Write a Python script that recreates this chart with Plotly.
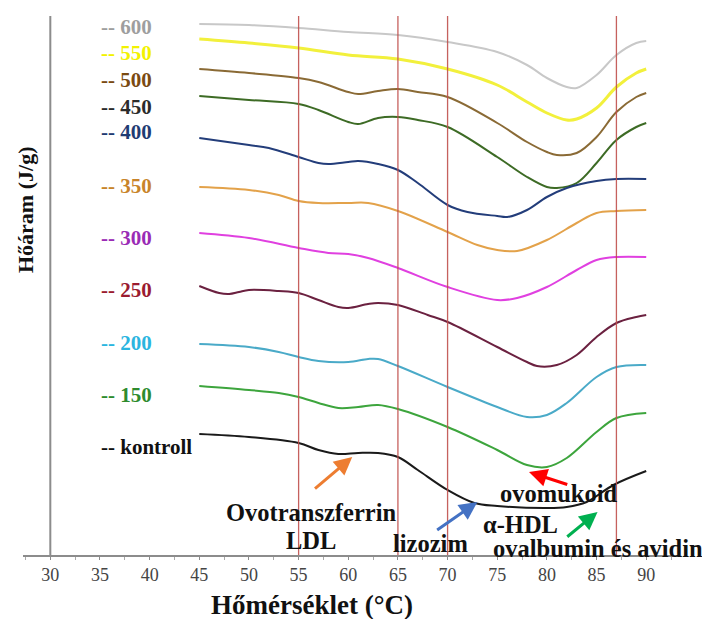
import plotly.graph_objects as go

# ---- data ----
t_600 = [45, 50, 55, 60, 65, 70, 75, 78, 80, 82, 83, 85, 87, 89, 90]
v_600 = [531, 530, 527, 523, 520, 513, 503, 490, 477, 468, 467, 480, 500, 512, 514]

t_550 = [45, 50, 55, 60, 65, 70, 75, 78, 80, 82, 83, 85, 87, 89, 90]
v_550 = [516, 512, 507, 500, 496, 486, 470, 453, 442, 435, 436, 447, 468, 482, 486]

t_500 = [45, 50, 55, 57, 60, 61, 63, 65, 67, 70, 75, 78, 80, 81, 83, 85, 87, 89, 90]
v_500 = [486, 482, 477, 473, 463, 461, 464, 466, 463, 458, 432, 413, 403, 400, 402, 418, 443, 458, 462]

t_450 = [45, 50, 55, 57, 60, 61, 63, 65, 67, 70, 75, 78, 80, 81, 83, 85, 87, 89, 90]
v_450 = [459, 455, 451, 445, 433, 431, 437, 438, 435, 428, 398, 378, 368, 367, 372, 392, 415, 428, 432]

t_400 = [45, 50, 52, 55, 57, 58, 60, 61, 63, 65, 67, 70, 72, 75, 76, 78, 80, 82, 85, 87, 90]
v_400 = [417, 410, 407, 398, 392, 391, 393, 394, 391, 385, 372, 350, 343, 339, 338, 345, 358, 367, 374, 376, 376]

t_350 = [45, 50, 53, 55, 57, 60, 62, 65, 70, 73, 75, 77, 80, 83, 85, 87, 90]
v_350 = [368, 365, 360, 354, 352, 352, 352, 344, 323, 310, 305, 304, 315, 332, 342, 344, 345]

t_300 = [45, 50, 55, 58, 60, 62, 65, 70, 75, 77, 80, 83, 85, 87, 90]
v_300 = [322, 317, 307, 302, 301, 297, 287, 268, 255, 257, 268, 285, 295, 298, 298]

t_250 = [45, 47, 48, 49, 50, 53, 55, 57, 59, 60, 62, 63, 65, 68, 70, 75, 78, 79, 81, 83, 85, 87, 89, 90]
v_250 = [269, 262, 261, 263, 265, 264, 262, 255, 248, 247, 251, 252, 250, 240, 233, 208, 193, 189, 190, 200, 218, 232, 238, 240]

t_200 = [45, 50, 53, 55, 57, 60, 62, 63, 65, 70, 75, 78, 80, 82, 85, 87, 90]
v_200 = [211, 208, 203, 198, 194, 193, 196, 196, 189, 168, 148, 138, 140, 152, 178, 188, 190]

t_150 = [45, 50, 53, 55, 57, 59, 61, 63, 65, 70, 75, 78, 80, 82, 85, 87, 90]
v_150 = [169, 165, 162, 158, 152, 147, 148, 150, 146, 128, 105, 90, 88, 97, 123, 137, 142]

t_kontroll = [45, 50, 55, 57, 59, 61, 63, 65, 67, 70, 72.7, 75, 80, 82, 84, 86.7, 90]
v_kontroll = [121, 118, 112, 105, 101, 102, 102, 98, 85, 65, 52, 49, 47, 48, 53, 70, 84]

series_names = ["600", "550", "500", "450", "400", "350", "300", "250", "200", "150", "kontroll"]
series_t = [t_600, t_550, t_500, t_450, t_400, t_350, t_300, t_250, t_200, t_150, t_kontroll]
series_v = [v_600, v_550, v_500, v_450, v_400, v_350, v_300, v_250, v_200, v_150, v_kontroll]
line_colors = ["#C8C8C8", "#F2F03C", "#8A6A35", "#3D6B25", "#233D7A", "#E3A24A",
               "#E040E0", "#6B2140", "#4AAAC8", "#3DA53D", "#1A1A1A"]
label_colors = ["#9E9E9E", "#F2F200", "#7A4A12", "#2B2B2B", "#1F3C73", "#C8842A",
                "#9A2BB5", "#9B1B30", "#2BB5E0", "#2E8B2E", "#111111"]
line_widths = [2, 3, 2, 2, 2, 2, 2, 2, 2, 2, 2]
label_y = [528, 502, 475, 448, 423, 369, 317, 265, 212, 160, 108]
label_x = 34.9

box_edges = [(55, 65), (70, 87)]
x_ticks = [30, 35, 40, 45, 50, 55, 60, 65, 70, 75, 80, 85, 90]

# protein annotations: text, x, y
protein_labels = [
    ("Ovotranszferrin", 56.2, 43),
    ("LDL", 56.2, 15),
    ("lizozim", 68.3, 12),
    ("ovomukoid", 81.2, 62),
    ("α-HDL", 77.3, 31),
    ("ovalbumin és avidin", 85.1, 7),
]
# arrows: tail x, tail y, head x, head y, colour
arrows = [
    (56.5, 65, 60.4, 98, "#ED7D31"),
    (68.8, 24, 73.0, 53, "#4472C4"),
    (82.2, 70, 78.2, 83, "#FF0000"),
    (81.9, 17, 85.1, 43, "#00B050"),
]

SERIF = "Liberation Serif, Times New Roman, serif"

fig = go.Figure()
for name, t, v, c, w in zip(series_names, series_t, series_v, line_colors, line_widths):
    fig.add_trace(go.Scatter(x=t, y=v, mode="lines", name=name,
                             line=dict(color=c, width=w, shape="spline", smoothing=1.0),
                             showlegend=False))

shapes = []
# y-axis line at 30
shapes.append(dict(type="line", xref="x", yref="y", x0=30, x1=30, y0=0, y1=539,
                   line=dict(color="#8C8C8C", width=2), layer="below"))
for a, b in box_edges:
    shapes.append(dict(type="path", xref="x", yref="y",
                       path=f"M {a},539 L {a},-2 L {b},-2 L {b},539",
                       line=dict(color="rgba(192,80,77,0.9)", width=1.3)))

annotations = []
for name, c, yy in zip(series_names, label_colors, label_y):
    annotations.append(dict(x=label_x, y=yy, xref="x", yref="y", text="-- " + name,
                            showarrow=False, xanchor="left", yanchor="middle",
                            font=dict(family=SERIF, size=21, color=c, weight="bold")))
for txt, x, y in protein_labels:
    annotations.append(dict(x=x, y=y, xref="x", yref="y", text=txt, showarrow=False,
                            xanchor="center", yanchor="middle",
                            font=dict(family=SERIF, size=24.5, color="#111111", weight="bold")))
for tx, ty, hx, hy, c in arrows:
    annotations.append(dict(x=hx, y=hy, ax=tx, ay=ty, xref="x", yref="y", axref="x", ayref="y",
                            text="", showarrow=True, arrowhead=2, arrowsize=1.2,
                            arrowwidth=3, arrowcolor=c))
annotations.append(dict(x=0.003, y=0.64, xref="paper", yref="paper", text="Hőáram (J/g)",
                        textangle=-90, showarrow=False, xanchor="center", yanchor="middle",
                        font=dict(family=SERIF, size=22, color="#111111", weight="bold")))
annotations.append(dict(x=0.441, y=-0.093, xref="paper", yref="paper", text="Hőmérséklet (°C)",
                        showarrow=False, xanchor="center", yanchor="middle",
                        font=dict(family=SERIF, size=27, color="#111111", weight="bold")))

fig.update_layout(
    width=702, height=611,
    margin=dict(l=15, r=32, t=8, b=64),
    paper_bgcolor="white", plot_bgcolor="white",
    xaxis=dict(range=[27.25, 93.2], showgrid=False, zeroline=False,
               showline=True, linecolor="#8C8C8C", linewidth=1.5,
               tickvals=x_ticks, ticks="outside", ticklen=3, tickcolor="#8C8C8C",
               minor=dict(dtick=2.5, ticks="outside", ticklen=3, tickcolor="#AAAAAA"),
               tickfont=dict(family=SERIF, size=18, color="#444444")),
    yaxis=dict(range=[0, 539], showgrid=False, zeroline=False, showline=False,
               showticklabels=False, ticks=""),
    shapes=shapes,
    annotations=annotations,
)

fig.write_html("out.html")
